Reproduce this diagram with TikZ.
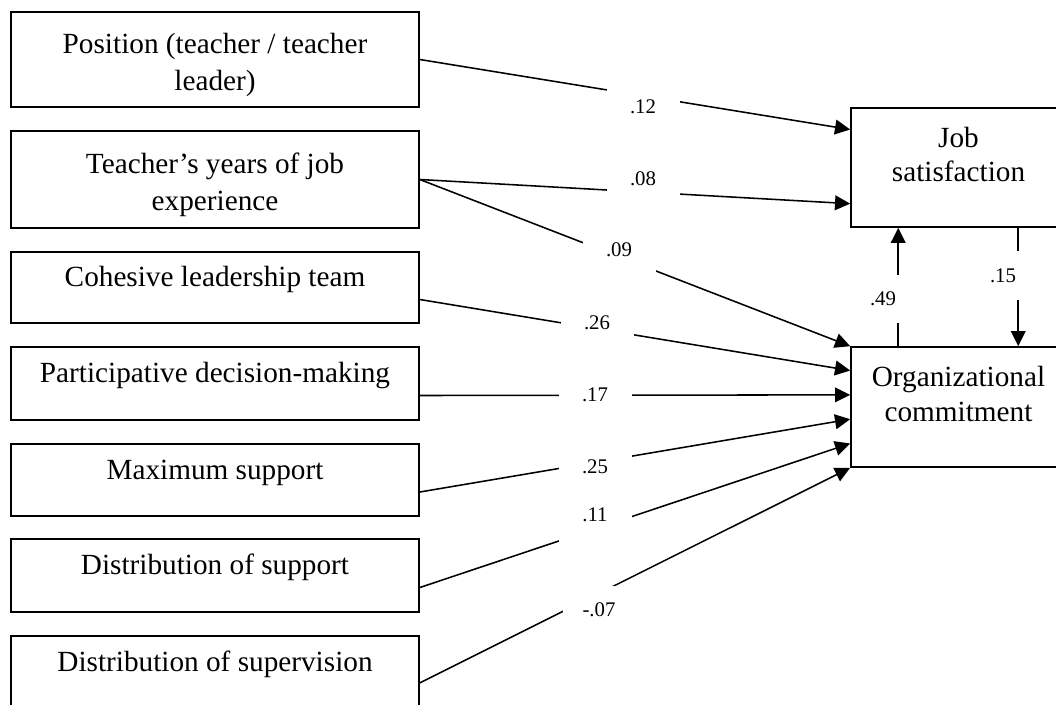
\documentclass[tikz,border=0pt]{standalone}
\usepackage{fontspec}
\setmainfont{Liberation Serif}
\usetikzlibrary{arrows.meta}
\usetikzlibrary{calc}
\newcommand{\lift}{\rule{0pt}{0.78cm}}
\tikzset{
	predictor/.style={draw, line width=1.1pt, minimum width=10.2cm, align=center, font=\fontsize{20.8}{26}\selectfont},
	predone/.style={predictor, text height=0.45cm, text depth=0.5cm},
	outcome/.style={draw, line width=1.1pt, minimum width=5.375cm, align=center, font=\fontsize{20.8}{24.5}\selectfont},
	arr/.style={line width=1.1pt, -{Triangle[length=0.38cm,width=0.37cm]}},
	coef/.style={fill=white, minimum width=1.825cm, minimum height=1.2cm, inner sep=0pt, font=\fontsize{14.8}{17}\selectfont}
}

\begin{document}
\begin{tikzpicture}[x=0.025cm, y=-0.025cm]
		\useasboundingbox (0,0) rectangle (1056,704);
		\node (b1)[predictor, minimum height=2.375cm] at (215,59.5) {\lift Position (teacher / teacher\\leader)};
		\node (b2)[predictor, minimum height=2.425cm] at (215,179.5) {\lift Teacher's years of job\\experience};
		\node (b3)[predone, minimum height=1.775cm] at (215,287.5) {Cohesive leadership team};
		\node (b4)[predone, minimum height=1.825cm] at (215,383.5) {Participative decision-making};
		\node (b5)[predone, minimum height=1.8cm] at (215,480) {Maximum support};
		\node (b6)[predone, minimum height=1.825cm] at (215,575.5) {Distribution of support};
		\node (b7)[predone, minimum height=1.825cm] at (215,672.5) {Distribution of supervision};
		%
		\node (js)[outcome, minimum height=2.975cm] at (958.5,167.5) {Job\\satisfaction\\[-0.2cm]~};
		\node (oc)[outcome, minimum height=3cm] at (958.5,407) {Organizational\\commitment\\[-0.2cm]~};
		%
		\draw [arr](b1.east)--($(js.north west)!0.185!(js.south west)$);
		\draw [arr](b2.east)--($(js.north west)!0.8!(js.south west)$);
		\draw [arr](b2.east)--(oc.north west);
		\draw [arr]([yshift=-0.3cm]b3.east)--($(oc.north west)!0.2!(oc.south west)$);
		\draw [arr]([yshift=-0.3cm]b4.east)--($(oc.north west)!0.4!(oc.south west)$);
		\draw [arr]([yshift=-0.3cm]b5.east)--($(oc.north west)!0.6!(oc.south west)$);
		\draw [arr]([yshift=-0.3cm]b6.east)--($(oc.north west)!0.8!(oc.south west)$);
		\draw [arr]([yshift=-0.26cm]b7.east)--(oc.south west);
		\draw [arr]([xshift=1.2cm]oc.north west)--([xshift=1.2cm]js.south west);
		\draw [arr]([xshift=4.2cm]js.south west)--([xshift=4.2cm]oc.north west);
		%
		\node (c12)[coef] at (643,107) {.12};
		\node (c08)[coef] at (643,179) {.08};
		\node (c09)[coef, minimum height=1.3cm] at (619,250) {.09};
		\node (c26)[coef] at (597,323) {.26};
		\node (c17)[coef] at (595,395) {.17};
		\node (c25)[coef] at (595,467) {.25};
		\node (c11)[coef, minimum height=1.35cm] at (595,515) {.11};
		\node (c07)[coef] at (599,610) {-.07};
		\node (c49)[coef, minimum width=0.9cm] at (883,299) {.49};
		\node (c15)[coef, minimum width=0.9cm, minimum height=1.225cm] at (1003,275.5) {.15};
	\end{tikzpicture}
\end{document}
